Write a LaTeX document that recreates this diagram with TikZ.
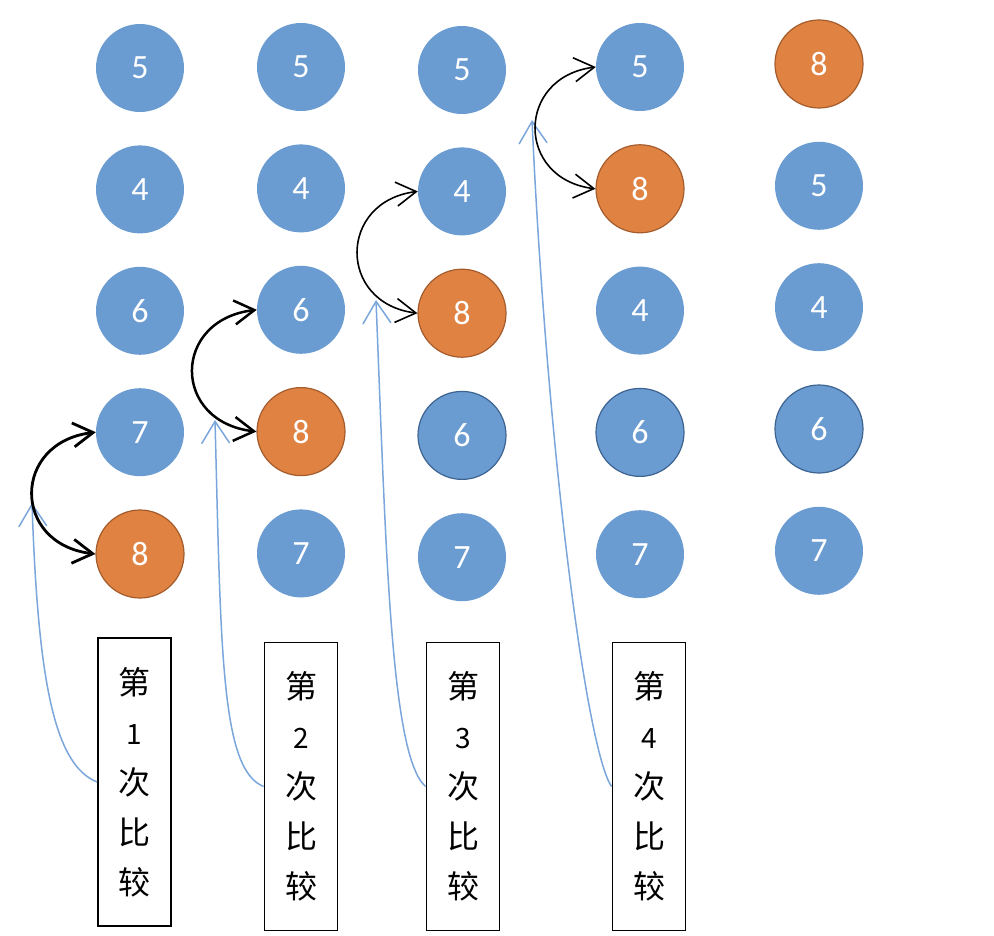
\documentclass[tikz,border=0pt]{standalone}
\usepackage{fontspec}
\setmainfont{Carlito}
\newfontfamily\cjkfont{Noto Sans CJK SC}
\usetikzlibrary{positioning,arrows.meta}

\definecolor{ballblue}{RGB}{106,155,209}
\definecolor{ballorange}{RGB}{224,130,66}
\definecolor{rimorange}{RGB}{165,92,45}
\definecolor{rimblue}{RGB}{62,100,145}
\definecolor{linkblue}{RGB}{122,166,220}

\tikzset{
  ball/.style={circle,fill=ballblue,minimum size=88pt,inner sep=0pt,text=white,
    font=\fontsize{34}{34}\selectfont},
  big/.style={ball,fill=ballorange,draw=rimorange,line width=1.2pt},
  ringed/.style={ball,draw=rimblue,line width=1.2pt},
  passbox/.style={draw,line width=1.8pt,minimum width=73pt,minimum height=288pt,
    inner sep=0pt,align=center,font=\cjkfont\fontsize{32}{50}\selectfont},
  swapline/.style={{Straight Barb[length=20pt,width=24pt]}-{Straight Barb[length=20pt,width=24pt]}},
  trace/.style={-{Straight Barb[length=22pt,width=28pt]},linkblue,line width=1.5pt}
}

\begin{document}
\begin{tikzpicture}[x=1pt,y=1pt,node distance=33pt]
  \useasboundingbox (0,0) rectangle (994,-936);

  % pass 1
  \node [ball] (a5) at (140,-68) {5};
  \node [ball,below=of a5] (a4) {4};
  \node [ball,below=of a4] (a6) {6};
  \node [ball,below=of a6] (a7) {7};
  \node [big,below=of a7] (a8) {8};

  % pass 2
  \node [ball] (b5) at (301,-67) {5};
  \node [ball,below=of b5] (b4) {4};
  \node [ball,below=of b4] (b6) {6};
  \node [big,below=of b6] (b8) {8};
  \node [ball,below=of b8] (b7) {7};

  % pass 3
  \node [ball] (c5) at (462,-70) {5};
  \node [ball,below=of c5] (c4) {4};
  \node [big,below=of c4] (c8) {8};
  \node [ringed,below=of c8] (c6) {6};
  \node [ball,below=of c6] (c7) {7};

  % pass 4
  \node [ball] (d5) at (640,-67) {5};
  \node [big,below=of d5] (d8) {8};
  \node [ball,below=of d8] (d4) {4};
  \node [ringed,below=of d4] (d6) {6};
  \node [ball,below=of d6] (d7) {7};

  % result
  \node [big] (e8) at (819,-64) {8};
  \node [ball,below=of e8] (e5) {5};
  \node [ball,below=of e5] (e4) {4};
  \node [ringed,below=of e4] (e6) {6};
  \node [ball,below=of e6] (e7) {7};

  % labels
  \node [passbox] (p1) at (134.5,-782) {第\\{\fontsize{28}{28}\selectfont 1}\\次\\比\\较};
  \node [passbox] (p2) at (301,-786.5) {第\\{\fontsize{28}{28}\selectfont 2}\\次\\比\\较};
  \node [passbox] (p3) at (463,-786.5) {第\\{\fontsize{28}{28}\selectfont 3}\\次\\比\\较};
  \node [passbox] (p4) at (649,-786.5) {第\\{\fontsize{28}{28}\selectfont 4}\\次\\比\\较};

  \coordinate (t1) at (32,-503);
  \coordinate (t2) at (215,-420);
  \coordinate (t3) at (376,-300);
  \coordinate (t4) at (532,-120);

  \draw[trace] (p1.west) .. controls +(-43,17) and +(6,-177) .. (t1);
  \draw[trace] (p2.west) .. controls +(-43,17) and +(6,-230) .. (t2);
  \draw[trace] (p3.west) .. controls +(-35,30) and +(10,-250) .. (t3);
  \draw[trace] (p4.west) .. controls +(-25,35) and +(15,-330) .. (t4);

  \draw[swapline,line width=2.8pt] (a7.west) .. controls +(-84,-10) and +(-84,10) .. (a8.west);
  \draw[swapline,line width=2.5pt] (b6.west) .. controls +(-85,-10) and +(-85,10) .. (b8.west);
  \draw[swapline,line width=1.6pt] (c4.west) .. controls +(-80,-10) and +(-80,10) .. (c8.west);
  \draw[swapline,line width=1.6pt] (d5.west) .. controls +(-80,-10) and +(-80,10) .. (d8.west);

\end{tikzpicture}
\end{document}
